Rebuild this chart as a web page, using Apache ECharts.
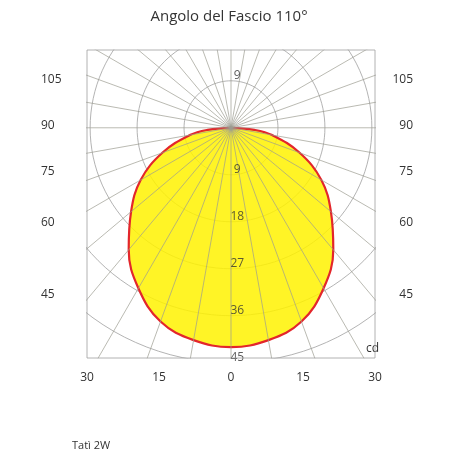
<!DOCTYPE html>
<html><head><meta charset="utf-8">
<script src="https://cdn.jsdelivr.net/npm/echarts@6/dist/echarts.min.js"></script>
<style>html,body{margin:0;background:#fff}#main{width:458px;height:458px}</style>
</head><body><div id="main"></div>
<script>
var chartDom = document.getElementById('main');
var myChart = echarts.init(chartDom);

// intensity curve: angle from nadir (deg) -> cd
const angles = [0, 10, 20, 30, 40, 50, 60, 70, 80, 85, 90];
const intensity = [42, 41.3, 39.5, 35.5, 30.5, 25, 20, 14, 8, 4.5, 0];
const ringValues = [9, 18, 27, 36, 45, 54];
const ringLabelsDown = [9, 18, 27, 36, 45];
const ringLabelsUp = [9];
const sideLabels = ['105', '90', '75', '60', '45'];
const sideLabelY = [82, 128, 174, 225, 297];

const rad = d => d * Math.PI / 180;
const pt = (r, g) => [r * Math.sin(rad(g)), -r * Math.cos(rad(g))];

// closed curve, mirrored on both sides
const curve = [];
for (let i = angles.length - 1; i >= 0; i--) curve.push(pt(intensity[i], -angles[i]));
for (let i = 1; i < angles.length; i++) curve.push(pt(intensity[i], angles[i]));

const gridLine = { color: '#a0a0a0', width: 0.8 };
const series = [];
ringValues.forEach(r => {
  const d = [];
  for (let g = 0; g <= 360; g += 3) d.push(pt(r, g));
  series.push({ type: 'line', data: d, showSymbol: false, silent: true, lineStyle: gridLine, z: 1 });
});
series.push({
  type: 'line', data: curve, smooth: 0.4, showSymbol: false, z: 3,
  lineStyle: { color: '#e3262b', width: 2.2 },
  areaStyle: { color: '#fff200', opacity: 0.85, origin: 'auto' }
});
// radial lines on top of fill
for (let g = 0; g < 180; g += 10) {
  series.push({ type: 'line', data: [pt(60, g), pt(60, g + 180)], showSymbol: false, silent: true, lineStyle: { color: '#9c9c90', width: 0.7 }, z: 4 });
}
series.push({
  type: 'scatter', symbolSize: 0, z: 6, clip: false,
  data: ringLabelsDown.map(v => [1.2, -v]).concat(ringLabelsUp.map(v => [1.2, v])),
  label: { show: true, formatter: p => Math.abs(p.value[1]), color: '#333', fontSize: 12, fontFamily: 'Open Sans', position: 'inside', offset: [0, -5] }
});
const tickAxis = {
  gridIndex: 0, type: 'value', min: -30, max: 30, interval: 15, position: 'bottom',
  axisLine: { show: false }, axisTick: { show: false }, splitLine: { show: false },
  axisLabel: { formatter: v => Math.abs(v), color: '#333', fontSize: 12, fontFamily: 'Open Sans', margin: 14 }
};

const graphics = [];
sideLabels.forEach((t, i) => {
  graphics.push({ type: 'text', left: 41, top: sideLabelY[i] - 8, style: { text: t, fill: '#333', font: '12px Open Sans' } });
  graphics.push({ type: 'text', right: 45, top: sideLabelY[i] - 8, style: { text: t, fill: '#333', font: '12px Open Sans', align: 'right' } });
});
graphics.push({ type: 'text', left: 366, top: 343, style: { text: 'cd', fill: '#333', font: '12px Open Sans' } });
graphics.push({ type: 'text', left: 72, top: 440, style: { text: 'Tatì 2W', fill: '#333', font: '11px Open Sans' } });
graphics.push({ type: 'rect', shape: { x: 87, y: 50, width: 288, height: 308 }, style: { fill: 'none', stroke: '#a0a0a0', lineWidth: 0.8 }, z: 10 });

myChart.setOption({
  animation: false,
  title: { text: 'Angolo del Fascio 110°', left: 'center', top: 4, textStyle: { color: '#333', fontSize: 15, fontWeight: 'normal', fontFamily: 'Open Sans' } },
  grid: { left: 87, right: 83, top: 50, bottom: 100 },
  xAxis: [
    { type: 'value', min: -27.6, max: 27.6, show: false },
    tickAxis
  ],
  yAxis: { type: 'value', min: -44.1, max: 14.9, show: false },
  graphic: graphics,
  series: series
});
</script></body></html>
